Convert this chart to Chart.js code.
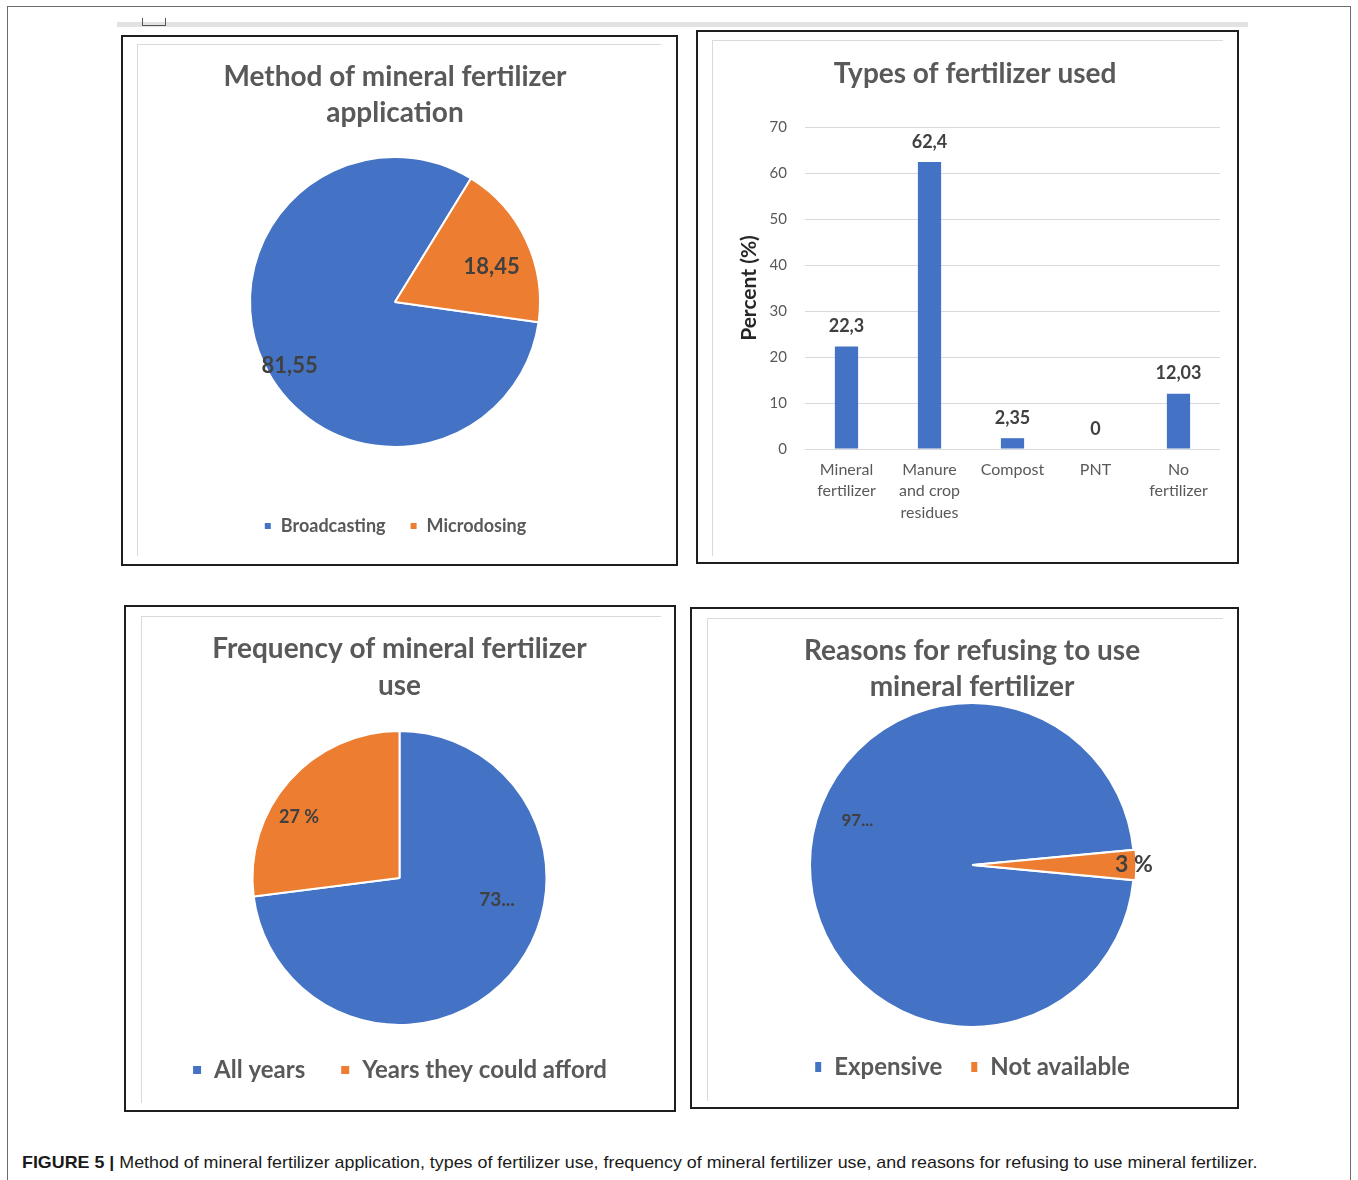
<!DOCTYPE html>
<html>
<head>
<meta charset="utf-8">
<script src="https://cdn.jsdelivr.net/npm/chart.js@4.4.1/dist/chart.umd.min.js"></script>
<style>
  html, body { margin: 0; padding: 0; background: #fff; }
  body { width: 1358px; height: 1180px; position: relative; overflow: hidden; }
  .frame { position: absolute; left: 7px; top: 6px; width: 1342px; height: 1200px; border: 1px solid #6b6b6b; }
  .strip { position: absolute; left: 117px; top: 22px; width: 1131px; height: 5px; background: #e2e2e2; }
  .bracket { position: absolute; left: 142px; top: 18px; width: 22px; height: 7px; border: 1px solid #555; border-top: none; }
  .panel { position: absolute; border: 2px solid #1e1e1e; box-sizing: border-box; }
  .inner { position: absolute; border-top: 1px solid #dadada; border-left: 1px solid #dadada; }
  canvas { position: absolute; }
  #caption { position: absolute; left: 22px; top: 1153px; font: 17px "Liberation Sans", Arial, sans-serif; color: #1a1a1a;
             white-space: nowrap; transform-origin: left center; }
  #caption b { font-weight: bold; }
</style>
</head>
<body>
<div class="frame"></div>
<div class="strip"></div>
<div class="bracket"></div>

<div class="panel" style="left:121px;top:35px;width:557px;height:531px"></div>
<div class="inner" style="left:137px;top:44px;width:523px;height:511px"></div>
<canvas id="methodChart" width="552" height="526" style="left:123px;top:37px"></canvas>

<div class="panel" style="left:696px;top:30px;width:543px;height:534px"></div>
<div class="inner" style="left:712px;top:40px;width:510px;height:515px"></div>
<canvas id="typesChart" width="538" height="529" style="left:698px;top:32px"></canvas>

<div class="panel" style="left:124px;top:605px;width:552px;height:507px"></div>
<div class="inner" style="left:141px;top:616px;width:519px;height:486px"></div>
<canvas id="freqChart" width="547" height="502" style="left:126px;top:607px"></canvas>

<div class="panel" style="left:690px;top:607px;width:549px;height:502px"></div>
<div class="inner" style="left:707px;top:618px;width:515px;height:482px"></div>
<canvas id="reasonChart" width="544" height="497" style="left:692px;top:609px"></canvas>

<div id="caption"><b>FIGURE 5 |</b> Method of mineral fertilizer application, types of fertilizer use, frequency of mineral fertilizer use, and reasons for refusing to use mineral fertilizer.</div>

<script>
// data
const methodLabels = ["Broadcasting", "Microdosing"];
const methodValues = [81.55, 18.45];

const typeCategories = [["Mineral", "fertilizer"], ["Manure", "and crop", "residues"], "Compost", "PNT", ["No", "fertilizer"]];
const typeValues = [22.3, 62.4, 2.35, 0, 12.03];
const percentTicks = [0, 10, 20, 30, 40, 50, 60, 70];

const freqLabels = ["All years", "Years they could afford"];
const freqValues = [73, 27];
const freqTexts = ["73...", "27 %"];

const reasonLabels = ["Expensive", "Not available"];
const reasonValues = [97, 3];
const reasonTexts = ["97...", "3 %"];

const BLUE = "#4472c4";
const ORANGE = "#ed7d31";
const GREY = "#595959";
const DARK = "#404040";
const FONT = "Lato, 'Open Sans', sans-serif";

Chart.defaults.font.family = FONT;
Chart.defaults.color = GREY;

const commaNum = (v) => String(v).replace(".", ",");

// text drawn on each slice, placed along the slice's middle angle
function sliceLabels(cfg) {
  return {
    id: "sliceLabels",
    afterDatasetsDraw(chart) {
      const ctx = chart.ctx;
      const arcs = chart.getDatasetMeta(0).data;
      ctx.save();
      ctx.textAlign = "center";
      ctx.textBaseline = "middle";
      ctx.fillStyle = DARK;
      arcs.forEach((arc, i) => {
        const p = arc.getProps(["x", "y", "startAngle", "endAngle", "outerRadius"], true);
        const a = (p.startAngle + p.endAngle) / 2 + (cfg.shift[i] * Math.PI) / 180;
        const r = p.outerRadius * cfg.dist[i];
        ctx.font = cfg.font[i];
        ctx.fillText(cfg.texts[i], p.x + Math.cos(a) * r, p.y + Math.sin(a) * r);
      });
      ctx.restore();
    },
  };
}

function pieChart(id, labels, values, o) {
  return new Chart(document.getElementById(id), {
    type: "pie",
    data: {
      labels: labels,
      datasets: [{
        data: values,
        backgroundColor: [BLUE, ORANGE],
        borderColor: "#ffffff",
        borderWidth: 2,
        offset: o.offset || 0,
      }],
    },
    options: {
      responsive: false,
      animation: false,
      rotation: o.rotation,
      radius: o.radius,
      layout: { padding: o.padding },
      plugins: {
        title: {
          display: true,
          text: o.title,
          color: GREY,
          font: { size: 28, weight: "bold", lineHeight: o.titleLine / 28 },
          padding: o.titlePad,
        },
        legend: {
          position: "bottom",
          // empty legend title used only as a spacer between pie and legend
          title: { display: o.legendGap > 0, text: "", font: { size: 10, lineHeight: 1.2 }, padding: { top: Math.max(o.legendGap - 12, 0), bottom: 0 } },
          labels: {
            color: GREY,
            font: { size: o.legendSize, weight: "bold" },
            boxWidth: o.box[0],
            boxHeight: o.box[1],
            padding: o.legendPad,
          },
        },
        tooltip: { enabled: false },
      },
    },
    plugins: [sliceLabels(o.slice)],
  });
}

pieChart("methodChart", methodLabels, methodValues, {
  title: ["Method of mineral fertilizer", "application"],
  titleLine: 36,
  titlePad: { top: 22, bottom: 6 },
  rotation: 98,
  radius: 145,
  padding: { left: 0, right: 8, top: 0, bottom: 18 },
  legendSize: 18,
  legendPad: 24,
  legendGap: 26,
  box: [8, 8],
  slice: {
    texts: methodValues.map(commaNum),
    shift: [-6, 5],
    dist: [0.85, 0.71],
    font: ["bold 22px " + FONT, "bold 22px " + FONT],
  },
});

pieChart("freqChart", freqLabels, freqValues, {
  title: ["Frequency of mineral fertilizer", "use"],
  titleLine: 37,
  titlePad: { top: 23.5, bottom: 28.5 },
  rotation: 0,
  radius: 147,
  padding: { left: 0, right: 0, top: 0, bottom: 17 },
  legendSize: 24,
  legendPad: 35,
  legendGap: 0,
  box: [10, 10],
  slice: {
    texts: freqTexts,
    shift: [-28.6, -10],
    dist: [0.68, 0.8],
    font: ["bold 19px " + FONT, "bold 18px " + FONT],
  },
});

pieChart("reasonChart", reasonLabels, reasonValues, {
  title: ["Reasons for refusing to use", "mineral fertilizer"],
  titleLine: 36,
  titlePad: { top: 24, bottom: 10 },
  rotation: 95.4,
  radius: 162,
  offset: [0, 5],
  padding: { left: 16, right: 0, top: 0, bottom: 17 },
  legendSize: 24,
  legendPad: 28,
  legendGap: 12,
  box: [8, 12],
  slice: {
    texts: reasonTexts,
    shift: [21.4, 0],
    dist: [0.76, 1.0],
    font: ["bold 17px " + FONT, "bold 23px " + FONT],
  },
});

const barValueLabels = {
  id: "barValueLabels",
  afterDatasetsDraw(chart) {
    const ctx = chart.ctx;
    const bars = chart.getDatasetMeta(0).data;
    ctx.save();
    ctx.font = "bold 18px " + FONT;
    ctx.fillStyle = DARK;
    ctx.textAlign = "center";
    ctx.textBaseline = "middle";
    bars.forEach((bar, i) => {
      ctx.fillText(commaNum(typeValues[i]), bar.x, bar.y - 20);
    });
    ctx.restore();
  },
};

new Chart(document.getElementById("typesChart"), {
  type: "bar",
  data: {
    labels: typeCategories,
    datasets: [{
      data: typeValues,
      backgroundColor: BLUE,
      categoryPercentage: 1,
      barPercentage: 0.28,
    }],
  },
  options: {
    responsive: false,
    animation: false,
    layout: { padding: { left: 16, right: 0, top: 0, bottom: 12 } },
    plugins: {
      legend: { display: false },
      tooltip: { enabled: false },
      title: {
        display: true,
        text: "Types of fertilizer used",
        color: GREY,
        font: { size: 28, weight: "bold", lineHeight: 1.2 },
        padding: { top: 25.2, bottom: 36.2 },
      },
    },
    scales: {
      x: {
        grid: { display: false, drawTicks: false },
        border: { display: false },
        ticks: {
          color: GREY,
          font: { size: 16, lineHeight: 1.34 },
          padding: 10,
          maxRotation: 0,
          autoSkip: false,
        },
        afterFit: (s) => { s.height = 100; },
      },
      y: {
        min: percentTicks[0],
        max: percentTicks[percentTicks.length - 1],
        afterBuildTicks: (s) => { s.ticks = percentTicks.map((v) => ({ value: v })); },
        grid: { color: "#d9d9d9", drawTicks: false },
        border: { display: false },
        ticks: { color: GREY, font: { size: 15 }, padding: 18 },
        title: {
          display: true,
          text: "Percent (%)",
          color: "#262626",
          font: { size: 21, weight: "bold", lineHeight: 1.2 },
          padding: { top: 22.4, bottom: 0 },
        },
        afterFit: (s) => { s.width = 91; },
      },
      // empty right-hand axis: keeps the plot inside the frame while the title stays centred
      yRight: {
        position: "right",
        grid: { display: false, drawTicks: false },
        border: { display: false },
        ticks: { display: false },
        afterFit: (s) => { s.width = 16; },
      },
    },
  },
  plugins: [barValueLabels],
});

// caption in the reference is set condensed; squeeze it to the same run length
const cap = document.getElementById("caption");
cap.style.transform = "scaleX(" + (1235 / cap.scrollWidth) + ")";
</script>
</body>
</html>
